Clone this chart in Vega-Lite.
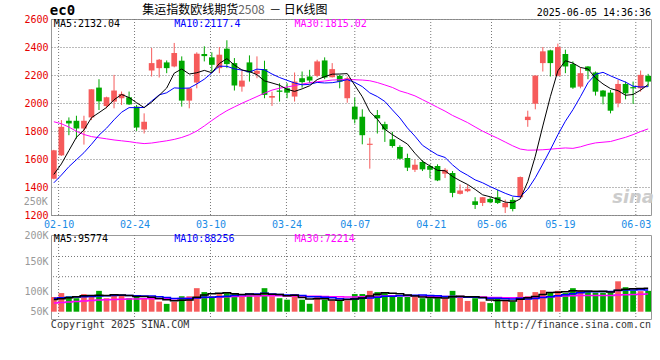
{
"$schema": "https://vega.github.io/schema/vega-lite/v6.json",
"background": "white",
"padding": {"left": 23, "top": 3, "right": 5, "bottom": 5},
"bounds": "flush",
"spacing": 20,
"config": {
  "view": {"stroke": "#999999", "strokeWidth": 1},
  "axis": {"labelFont": "DejaVu Sans Mono", "labelFontSize": 10, "ticks": false, "domain": false, "labelOverlap": false},
  "text": {"font": "DejaVu Sans Mono", "fontSize": 10, "baseline": "middle"}
},
"datasets": {
"ticks": [{"t":1},{"t":11},{"t":21},{"t":31},{"t":40},{"t":50},{"t":58},{"t":67},{"t":77}],
"hgrid": [{"g":225300},{"g":142900}],
"k": [
{"d":"02-07","o":1459,"h":1665,"l":1455,"c":1662,"m5":1490,"m10":1430,"m30":1866,"v":60000,"vm5":50000,"vm10":55000,"vm30":36000},
{"d":"02-10","o":1626,"h":1878,"l":1622,"c":1830,"m5":1565,"m10":1485,"m30":1852,"v":76000,"vm5":53000,"vm10":57000,"vm30":38000},
{"d":"02-11","o":1873,"h":1897,"l":1770,"c":1854,"m5":1660,"m10":1545,"m30":1828,"v":63000,"vm5":57000,"vm10":59000,"vm30":40000},
{"d":"02-12","o":1873,"h":1909,"l":1746,"c":1818,"m5":1755,"m10":1595,"m30":1798,"v":55000,"vm5":61000,"vm10":60000,"vm30":42000},
{"d":"02-13","o":1818,"h":1909,"l":1703,"c":1873,"m5":1807,"m10":1645,"m30":1775,"v":72000,"vm5":65200,"vm10":61000,"vm30":44000},
{"d":"02-14","o":1897,"h":2098,"l":1878,"c":2098,"m5":1895,"m10":1705,"m30":1760,"v":63000,"vm5":65800,"vm10":62000,"vm30":46000},
{"d":"02-17","o":2110,"h":2170,"l":1950,"c":2012,"m5":1931,"m10":1770,"m30":1752,"v":85000,"vm5":67600,"vm10":64000,"vm30":48000},
{"d":"02-18","o":1978,"h":2045,"l":1962,"c":2041,"m5":1968,"m10":1820,"m30":1744,"v":55000,"vm5":66000,"vm10":65000,"vm30":49000},
{"d":"02-19","o":2010,"h":2201,"l":1962,"c":2089,"m5":2023,"m10":1880,"m30":1736,"v":72000,"vm5":69400,"vm10":66000,"vm30":50000},
{"d":"02-20","o":2034,"h":2082,"l":1986,"c":2065,"m5":2061,"m10":1934,"m30":1730,"v":66000,"vm5":68200,"vm10":66700,"vm30":51000},
{"d":"02-21","o":2041,"h":2082,"l":1986,"c":1990,"m5":2039,"m10":1967,"m30":1724,"v":55000,"vm5":66600,"vm10":66200,"vm30":52000},
{"d":"02-24","o":1974,"h":1986,"l":1801,"c":1825,"m5":2002,"m10":1967,"m30":1716,"v":63000,"vm5":62200,"vm10":64900,"vm30":52000},
{"d":"02-25","o":1811,"h":1926,"l":1782,"c":1866,"m5":1967,"m10":1968,"m30":1710,"v":55000,"vm5":62200,"vm10":64100,"vm30":53000},
{"d":"02-26","o":2232,"h":2393,"l":2189,"c":2285,"m5":2006,"m10":2014,"m30":1714,"v":55000,"vm5":58800,"vm10":64100,"vm30":53000},
{"d":"02-27","o":2249,"h":2314,"l":2182,"c":2309,"m5":2055,"m10":2058,"m30":1722,"v":41000,"vm5":53800,"vm10":61000,"vm30":53000},
{"d":"02-28","o":2290,"h":2304,"l":2213,"c":2249,"m5":2107,"m10":2073,"m30":1730,"v":32000,"vm5":49200,"vm10":57900,"vm30":53000},
{"d":"03-03","o":2261,"h":2429,"l":2255,"c":2357,"m5":2213,"m10":2108,"m30":1740,"v":41000,"vm5":44800,"vm10":53500,"vm30":53000},
{"d":"03-04","o":2302,"h":2333,"l":1974,"c":2017,"m5":2243,"m10":2105,"m30":1754,"v":63000,"vm5":46400,"vm10":54300,"vm30":54000},
{"d":"03-05","o":2017,"h":2105,"l":1962,"c":2105,"m5":2207,"m10":2107,"m30":1773,"v":63000,"vm5":48000,"vm10":53400,"vm30":55000},
{"d":"03-06","o":2146,"h":2362,"l":2105,"c":2352,"m5":2216,"m10":2136,"m30":1800,"v":96000,"vm5":59000,"vm10":56400,"vm30":57000},
{"d":"03-07","o":2350,"h":2405,"l":2297,"c":2335,"m5":2233,"m10":2170,"m30":1836,"v":80000,"vm5":68600,"vm10":58900,"vm30":58000},
{"d":"03-10","o":2326,"h":2362,"l":2218,"c":2273,"m5":2216,"m10":2215,"m30":1875,"v":63000,"vm5":73000,"vm10":58900,"vm30":59000},
{"d":"03-11","o":2249,"h":2400,"l":2213,"c":2345,"m5":2282,"m10":2263,"m30":1912,"v":72000,"vm5":74800,"vm10":60600,"vm30":60000},
{"d":"03-12","o":2388,"h":2448,"l":2249,"c":2278,"m5":2317,"m10":2262,"m30":1945,"v":76000,"vm5":77400,"vm10":62700,"vm30":61000},
{"d":"03-13","o":2285,"h":2321,"l":2089,"c":2125,"m5":2271,"m10":2244,"m30":1972,"v":76000,"vm5":73400,"vm10":66200,"vm30":62000},
{"d":"03-14","o":2117,"h":2232,"l":2081,"c":2160,"m5":2236,"m10":2235,"m30":1998,"v":63000,"vm5":70000,"vm10":69300,"vm30":63000},
{"d":"03-17","o":2290,"h":2340,"l":2153,"c":2218,"m5":2225,"m10":2221,"m30":2022,"v":72000,"vm5":71800,"vm10":72400,"vm30":64000},
{"d":"03-18","o":2208,"h":2333,"l":2177,"c":2230,"m5":2202,"m10":2242,"m30":2046,"v":63000,"vm5":70000,"vm10":72400,"vm30":64000},
{"d":"03-19","o":2242,"h":2302,"l":2034,"c":2058,"m5":2158,"m10":2237,"m30":2070,"v":96000,"vm5":74000,"vm10":75700,"vm30":65000},
{"d":"03-20","o":2038,"h":2081,"l":1979,"c":2050,"m5":2143,"m10":2207,"m30":2092,"v":63000,"vm5":71400,"vm10":72400,"vm30":65200},
{"d":"03-21","o":2089,"h":2141,"l":2010,"c":2080,"m5":2127,"m10":2182,"m30":2106,"v":55000,"vm5":69800,"vm10":69900,"vm30":65000},
{"d":"03-24","o":2105,"h":2141,"l":2034,"c":2074,"m5":2098,"m10":2162,"m30":2114,"v":49000,"vm5":65200,"vm10":68500,"vm30":64100},
{"d":"03-25","o":2046,"h":2218,"l":2010,"c":2153,"m5":2083,"m10":2143,"m30":2124,"v":72000,"vm5":67000,"vm10":68500,"vm30":64400},
{"d":"03-26","o":2177,"h":2225,"l":2110,"c":2149,"m5":2101,"m10":2130,"m30":2135,"v":49000,"vm5":57600,"vm10":65800,"vm30":64200},
{"d":"03-27","o":2189,"h":2237,"l":2141,"c":2160,"m5":2123,"m10":2133,"m30":2145,"v":32000,"vm5":51400,"vm10":61400,"vm30":62900},
{"d":"03-28","o":2194,"h":2309,"l":2184,"c":2297,"m5":2167,"m10":2147,"m30":2152,"v":63000,"vm5":53000,"vm10":61400,"vm30":62900},
{"d":"03-31","o":2304,"h":2326,"l":2170,"c":2182,"m5":2188,"m10":2143,"m30":2157,"v":49000,"vm5":53000,"vm10":59100,"vm30":61700},
{"d":"04-01","o":2184,"h":2285,"l":2182,"c":2242,"m5":2206,"m10":2145,"m30":2164,"v":46000,"vm5":47800,"vm10":57400,"vm30":61400},
{"d":"04-02","o":2194,"h":2201,"l":2105,"c":2153,"m5":2207,"m10":2154,"m30":2166,"v":46000,"vm5":47200,"vm10":52400,"vm30":60500},
{"d":"04-03","o":2034,"h":2189,"l":2002,"c":2177,"m5":2210,"m10":2167,"m30":2170,"v":46000,"vm5":50000,"vm10":50700,"vm30":59800},
{"d":"04-07","o":1974,"h":2038,"l":1854,"c":1883,"m5":2127,"m10":2147,"m30":2166,"v":72000,"vm5":51800,"vm10":52400,"vm30":60400},
{"d":"04-08","o":1902,"h":1955,"l":1705,"c":1770,"m5":2045,"m10":2117,"m30":2164,"v":72000,"vm5":56400,"vm10":54700,"vm30":60700},
{"d":"04-09","o":1701,"h":1751,"l":1531,"c":1709,"m5":1938,"m10":2072,"m30":2159,"v":85000,"vm5":64200,"vm10":56000,"vm30":61700},
{"d":"04-10","o":1914,"h":1950,"l":1782,"c":1890,"m5":1885,"m10":2046,"m30":2146,"v":80000,"vm5":71000,"vm10":59100,"vm30":62500},
{"d":"04-11","o":1849,"h":1866,"l":1722,"c":1811,"m5":1812,"m10":2011,"m30":2129,"v":76000,"vm5":77000,"vm10":63500,"vm30":63700},
{"d":"04-14","o":1741,"h":1794,"l":1681,"c":1693,"m5":1774,"m10":1951,"m30":2111,"v":63000,"vm5":75200,"vm10":63500,"vm30":64700},
{"d":"04-15","o":1686,"h":1698,"l":1598,"c":1602,"m5":1740,"m10":1893,"m30":2086,"v":60000,"vm5":72800,"vm10":64600,"vm30":65400},
{"d":"04-16","o":1607,"h":1638,"l":1514,"c":1538,"m5":1707,"m10":1822,"m30":2070,"v":60000,"vm5":67800,"vm10":66000,"vm30":65300},
{"d":"04-17","o":1523,"h":1595,"l":1507,"c":1559,"m5":1641,"m10":1763,"m30":2051,"v":60000,"vm5":63800,"vm10":67400,"vm30":65200},
{"d":"04-18","o":1579,"h":1591,"l":1514,"c":1526,"m5":1584,"m10":1698,"m30":2024,"v":55000,"vm5":59600,"vm10":68300,"vm30":63800},
{"d":"04-21","o":1550,"h":1562,"l":1464,"c":1523,"m5":1550,"m10":1662,"m30":1997,"v":55000,"vm5":58000,"vm10":66600,"vm30":63000},
{"d":"04-22","o":1550,"h":1562,"l":1442,"c":1447,"m5":1519,"m10":1629,"m30":1969,"v":55000,"vm5":57000,"vm10":64900,"vm30":62700},
{"d":"04-23","o":1495,"h":1535,"l":1464,"c":1523,"m5":1516,"m10":1611,"m30":1942,"v":55000,"vm5":56000,"vm10":61900,"vm30":62100},
{"d":"04-24","o":1500,"h":1514,"l":1327,"c":1358,"m5":1475,"m10":1558,"m30":1911,"v":85000,"vm5":61000,"vm10":62400,"vm30":62400},
{"d":"04-25","o":1351,"h":1418,"l":1346,"c":1375,"m5":1445,"m10":1514,"m30":1886,"v":64000,"vm5":62800,"vm10":61200,"vm30":62000},
{"d":"04-28","o":1370,"h":1416,"l":1363,"c":1387,"m5":1418,"m10":1484,"m30":1860,"v":44000,"vm5":60600,"vm10":59300,"vm30":61400},
{"d":"04-29","o":1298,"h":1327,"l":1243,"c":1272,"m5":1383,"m10":1451,"m30":1829,"v":55000,"vm5":60600,"vm10":58800,"vm30":60800},
{"d":"04-30","o":1286,"h":1327,"l":1264,"c":1327,"m5":1344,"m10":1430,"m30":1799,"v":41000,"vm5":57800,"vm10":56900,"vm30":60100},
{"d":"05-06","o":1315,"h":1327,"l":1284,"c":1291,"m5":1330,"m10":1403,"m30":1773,"v":35000,"vm5":47800,"vm10":54400,"vm30":58100},
{"d":"05-07","o":1327,"h":1380,"l":1279,"c":1286,"m5":1313,"m10":1379,"m30":1748,"v":55000,"vm5":46000,"vm10":54400,"vm30":57800},
{"d":"05-08","o":1255,"h":1310,"l":1214,"c":1286,"m5":1292,"m10":1355,"m30":1721,"v":44000,"vm5":46000,"vm10":53300,"vm30":57400},
{"d":"05-09","o":1308,"h":1327,"l":1226,"c":1243,"m5":1287,"m10":1335,"m30":1694,"v":41000,"vm5":43200,"vm10":51900,"vm30":57200},
{"d":"05-12","o":1327,"h":1475,"l":1325,"c":1471,"m5":1315,"m10":1330,"m30":1671,"v":80000,"vm5":51000,"vm10":54400,"vm30":57400},
{"d":"05-13","o":1878,"h":1945,"l":1830,"c":1902,"m5":1438,"m10":1384,"m30":1663,"v":63000,"vm5":56600,"vm10":52200,"vm30":57900},
{"d":"05-14","o":1995,"h":2196,"l":1955,"c":2196,"m5":1620,"m10":1466,"m30":1664,"v":80000,"vm5":61600,"vm10":53800,"vm30":59500},
{"d":"05-15","o":2285,"h":2400,"l":2225,"c":2369,"m5":1836,"m10":1564,"m30":1666,"v":88000,"vm5":70400,"vm10":58200,"vm30":60300},
{"d":"05-16","o":2376,"h":2381,"l":2189,"c":2285,"m5":2045,"m10":1666,"m30":1670,"v":80000,"vm5":78200,"vm10":60700,"vm30":61400},
{"d":"05-19","o":2194,"h":2424,"l":2190,"c":2400,"m5":2230,"m10":1773,"m30":1675,"v":85000,"vm5":79200,"vm10":65100,"vm30":62700},
{"d":"05-20","o":2350,"h":2381,"l":2213,"c":2261,"m5":2302,"m10":1870,"m30":1679,"v":76000,"vm5":81800,"vm10":69200,"vm30":63700},
{"d":"05-21","o":2278,"h":2297,"l":2101,"c":2110,"m5":2285,"m10":1952,"m30":1676,"v":96000,"vm5":85000,"vm10":73300,"vm30":65300},
{"d":"05-22","o":2117,"h":2254,"l":2105,"c":2213,"m5":2254,"m10":2045,"m30":1687,"v":87000,"vm5":84800,"vm10":77600,"vm30":65800},
{"d":"05-23","o":2261,"h":2263,"l":2170,"c":2230,"m5":2243,"m10":2144,"m30":1703,"v":80000,"vm5":84800,"vm10":81500,"vm30":66100},
{"d":"05-26","o":2218,"h":2225,"l":2053,"c":2081,"m5":2179,"m10":2205,"m30":1715,"v":78000,"vm5":83400,"vm10":81300,"vm30":65900},
{"d":"05-27","o":2089,"h":2093,"l":1990,"c":2046,"m5":2136,"m10":2219,"m30":1720,"v":78000,"vm5":83800,"vm10":82800,"vm30":65800},
{"d":"05-28","o":2074,"h":2093,"l":1926,"c":1945,"m5":2103,"m10":2194,"m30":1725,"v":79000,"vm5":80400,"vm10":82700,"vm30":65900},
{"d":"05-29","o":1998,"h":2165,"l":1969,"c":2136,"m5":2088,"m10":2171,"m30":1740,"v":124000,"vm5":87800,"vm10":86300,"vm30":67900},
{"d":"05-30","o":2136,"h":2153,"l":2026,"c":2069,"m5":2055,"m10":2149,"m30":1755,"v":100000,"vm5":91800,"vm10":88300,"vm30":69300},
{"d":"06-03","o":2113,"h":2153,"l":1993,"c":2105,"m5":2061,"m10":2120,"m30":1774,"v":86000,"vm5":93400,"vm10":88400,"vm30":70100},
{"d":"06-04","o":2105,"h":2232,"l":2081,"c":2201,"m5":2092,"m10":2114,"m30":1796,"v":84000,"vm5":94600,"vm10":89200,"vm30":70900},
{"d":"06-05","o":2194,"h":2208,"l":2117,"c":2153,"m5":2132,"m10":2117,"m30":1815,"v":85000,"vm5":95800,"vm10":88100,"vm30":72200}
]
},
"vconcat": [
{
  "width": 600, "height": 196,
  "resolve": {"scale": {"x": "independent"}},
  "layer": [
    {
      "data": {"name": "ticks"},
      "mark": {"type": "rule", "color": "#777777", "strokeDash": [1, 2], "strokeWidth": 1},
      "encoding": {
        "x": {"field": "t", "type": "quantitative", "title": null,
          "scale": {"domain": [0, 79], "nice": false, "zero": false},
          "axis": {"values": [1,11,21,31,40,50,58,67,77],
            "labelExpr": "['02-10','02-24','03-10','03-24','04-07','04-21','05-06','05-19','06-03'][indexof([1,11,21,31,40,50,58,67,77], datum.value)]",
            "labelColor": "#1a8ce6", "labelPadding": 4, "labelFlush": false, "labelOverlap": false, "grid": false}}
      }
    },
    {
      "data": {"name": "k"},
      "encoding": {"x": {"field": "d", "type": "ordinal", "title": null, "scale": {"type": "band", "paddingInner": 0.24, "paddingOuter": 0}, "axis": null}},
      "layer": [
        {
          "mark": {"type": "rule", "strokeWidth": 1},
          "encoding": {
            "y": {"field": "l", "type": "quantitative", "title": null,
              "scale": {"domain": [1200, 2600], "nice": false, "zero": false},
              "axis": {"values": [1200,1400,1600,1800,2000,2200,2400,2600], "format": "d", "labelColor": "#e60000", "labelPadding": 3, "labelOverlap": false, "grid": true, "gridDash": [1, 2], "gridColor": "#777777"}},
            "y2": {"field": "h"},
            "color": {"condition": {"test": "datum.c >= datum.o", "value": "#f65b5b"}, "value": "#00a800"}
          }
        },
        {
          "mark": {"type": "bar"},
          "encoding": {
            "y": {"field": "o", "type": "quantitative", "title": null, "scale": {"domain": [1200, 2600], "nice": false, "zero": false},
              "axis": {"values": [1200,1400,1600,1800,2000,2200,2400,2600], "format": "d", "labelColor": "#e60000", "labelPadding": 3, "labelOverlap": false, "grid": true, "gridDash": [1, 2], "gridColor": "#777777"}},
            "y2": {"field": "c"},
            "color": {"condition": {"test": "datum.c >= datum.o", "value": "#f65b5b"}, "value": "#00a800"}
          }
        },
        {"mark": {"type": "line", "color": "#ff00ff", "strokeWidth": 1},
         "encoding": {"y": {"field": "m30", "type": "quantitative", "title": null, "scale": {"domain": [1200, 2600], "nice": false, "zero": false},
           "axis": {"values": [1200,1400,1600,1800,2000,2200,2400,2600], "format": "d", "labelColor": "#e60000", "labelPadding": 3, "labelOverlap": false, "grid": true, "gridDash": [1, 2], "gridColor": "#777777"}}}},
        {"mark": {"type": "line", "color": "#0000ff", "strokeWidth": 1},
         "encoding": {"y": {"field": "m10", "type": "quantitative", "title": null, "scale": {"domain": [1200, 2600], "nice": false, "zero": false},
           "axis": {"values": [1200,1400,1600,1800,2000,2200,2400,2600], "format": "d", "labelColor": "#e60000", "labelPadding": 3, "labelOverlap": false, "grid": true, "gridDash": [1, 2], "gridColor": "#777777"}}}},
        {"mark": {"type": "line", "color": "#000000", "strokeWidth": 1},
         "encoding": {"y": {"field": "m5", "type": "quantitative", "title": null, "scale": {"domain": [1200, 2600], "nice": false, "zero": false},
           "axis": {"values": [1200,1400,1600,1800,2000,2200,2400,2600], "format": "d", "labelColor": "#e60000", "labelPadding": 3, "labelOverlap": false, "grid": true, "gridDash": [1, 2], "gridColor": "#777777"}}}},
        {"data": {"values": [{"s": "MA5:2132.04", "x": "02-07", "p": 2564}]}, "mark": {"type": "text", "align": "left", "color": "#000000"},
         "encoding": {"x": {"field": "x", "type": "ordinal"}, "y": {"field": "p", "type": "quantitative", "title": null, "scale": {"domain": [1200, 2600], "nice": false, "zero": false},
           "axis": {"values": [1200,1400,1600,1800,2000,2200,2400,2600], "format": "d", "labelColor": "#e60000", "labelPadding": 3, "labelOverlap": false, "grid": true, "gridDash": [1, 2], "gridColor": "#777777"}}, "text": {"field": "s"}}},
        {"data": {"values": [{"s": "MA10:2117.4", "x": "03-03", "p": 2564}]}, "mark": {"type": "text", "align": "left", "color": "#0000ff"},
         "encoding": {"x": {"field": "x", "type": "ordinal"}, "y": {"field": "p", "type": "quantitative", "title": null, "scale": {"domain": [1200, 2600], "nice": false, "zero": false},
           "axis": {"values": [1200,1400,1600,1800,2000,2200,2400,2600], "format": "d", "labelColor": "#e60000", "labelPadding": 3, "labelOverlap": false, "grid": true, "gridDash": [1, 2], "gridColor": "#777777"}}, "text": {"field": "s"}}},
        {"data": {"values": [{"s": "MA30:1815.02", "x": "03-25", "p": 2564}]}, "mark": {"type": "text", "align": "left", "color": "#ff00ff"},
         "encoding": {"x": {"field": "x", "type": "ordinal"}, "y": {"field": "p", "type": "quantitative", "title": null, "scale": {"domain": [1200, 2600], "nice": false, "zero": false},
           "axis": {"values": [1200,1400,1600,1800,2000,2200,2400,2600], "format": "d", "labelColor": "#e60000", "labelPadding": 3, "labelOverlap": false, "grid": true, "gridDash": [1, 2], "gridColor": "#777777"}}, "text": {"field": "s"}}},
        {"data": {"values": [{"s": "250K", "x": "02-07", "p": 1295}]}, "mark": {"type": "text", "align": "right", "color": "#999999", "dx": -6},
         "encoding": {"x": {"field": "x", "type": "ordinal"}, "y": {"field": "p", "type": "quantitative", "title": null, "scale": {"domain": [1200, 2600], "nice": false, "zero": false},
           "axis": {"values": [1200,1400,1600,1800,2000,2200,2400,2600], "format": "d", "labelColor": "#e60000", "labelPadding": 3, "labelOverlap": false, "grid": true, "gridDash": [1, 2], "gridColor": "#777777"}}, "text": {"field": "s"}}},
        {"data": {"values": [{"s": "ec0", "x": "02-07", "p": 2655}]}, "mark": {"type": "text", "align": "left", "color": "#000000", "fontSize": 14, "fontWeight": "bold", "dx": -4},
         "encoding": {"x": {"field": "x", "type": "ordinal"}, "y": {"field": "p", "type": "quantitative", "title": null, "scale": {"domain": [1200, 2600], "nice": false, "zero": false},
           "axis": {"values": [1200,1400,1600,1800,2000,2200,2400,2600], "format": "d", "labelColor": "#e60000", "labelPadding": 3, "labelOverlap": false, "grid": true, "gridDash": [1, 2], "gridColor": "#777777"}}, "text": {"field": "s"}}},
        {"data": {"values": [{"s": "集运指数欧线期货", "x": "02-25", "p": 2662}]}, "mark": {"type": "text", "align": "left", "color": "#000000", "font": "Noto Sans CJK SC", "fontSize": 12, "dx": -2},
         "encoding": {"x": {"field": "x", "type": "ordinal"}, "y": {"field": "p", "type": "quantitative", "title": null, "scale": {"domain": [1200, 2600], "nice": false, "zero": false},
           "axis": {"values": [1200,1400,1600,1800,2000,2200,2400,2600], "format": "d", "labelColor": "#e60000", "labelPadding": 3, "labelOverlap": false, "grid": true, "gridDash": [1, 2], "gridColor": "#777777"}}, "text": {"field": "s"}}},
        {"data": {"values": [{"s": "2508", "x": "02-25", "p": 2662}]}, "mark": {"type": "text", "align": "left", "color": "#666666", "font": "Noto Sans CJK SC", "fontSize": 12, "dx": 94},
         "encoding": {"x": {"field": "x", "type": "ordinal"}, "y": {"field": "p", "type": "quantitative", "title": null, "scale": {"domain": [1200, 2600], "nice": false, "zero": false},
           "axis": {"values": [1200,1400,1600,1800,2000,2200,2400,2600], "format": "d", "labelColor": "#e60000", "labelPadding": 3, "labelOverlap": false, "grid": true, "gridDash": [1, 2], "gridColor": "#777777"}}, "text": {"field": "s"}}},
        {"data": {"values": [{"s": "－ 日K线图", "x": "02-25", "p": 2662}]}, "mark": {"type": "text", "align": "left", "color": "#000000", "font": "Noto Sans CJK SC", "fontSize": 12, "dx": 125},
         "encoding": {"x": {"field": "x", "type": "ordinal"}, "y": {"field": "p", "type": "quantitative", "title": null, "scale": {"domain": [1200, 2600], "nice": false, "zero": false},
           "axis": {"values": [1200,1400,1600,1800,2000,2200,2400,2600], "format": "d", "labelColor": "#e60000", "labelPadding": 3, "labelOverlap": false, "grid": true, "gridDash": [1, 2], "gridColor": "#777777"}}, "text": {"field": "s"}}},
        {"data": {"values": [{"s": "2025-06-05 14:36:36", "x": "06-05", "p": 2641}]}, "mark": {"type": "text", "align": "right", "color": "#000000", "dx": 3},
         "encoding": {"x": {"field": "x", "type": "ordinal"}, "y": {"field": "p", "type": "quantitative", "title": null, "scale": {"domain": [1200, 2600], "nice": false, "zero": false},
           "axis": {"values": [1200,1400,1600,1800,2000,2200,2400,2600], "format": "d", "labelColor": "#e60000", "labelPadding": 3, "labelOverlap": false, "grid": true, "gridDash": [1, 2], "gridColor": "#777777"}}, "text": {"field": "s"}}},
        {"data": {"values": [{"s": "sina", "x": "06-03", "p": 1322}]}, "mark": {"type": "text", "align": "center", "color": "#cccccc", "font": "DejaVu Sans", "fontSize": 18, "fontWeight": "bold", "fontStyle": "italic"},
         "encoding": {"x": {"field": "x", "type": "ordinal"}, "y": {"field": "p", "type": "quantitative", "title": null, "scale": {"domain": [1200, 2600], "nice": false, "zero": false},
           "axis": {"values": [1200,1400,1600,1800,2000,2200,2400,2600], "format": "d", "labelColor": "#e60000", "labelPadding": 3, "labelOverlap": false, "grid": true, "gridDash": [1, 2], "gridColor": "#777777"}}, "text": {"field": "s"}}}
      ]
    }
  ]
},
{
  "width": 600, "height": 84,
  "resolve": {"scale": {"x": "independent"}},
  "layer": [
    {
      "data": {"name": "ticks"},
      "mark": {"type": "rule", "color": "#777777", "strokeDash": [1, 2], "strokeWidth": 1},
      "encoding": {"x": {"field": "t", "type": "quantitative", "title": null, "scale": {"domain": [0, 79], "nice": false, "zero": false}, "axis": null}}
    },
    {
      "data": {"name": "hgrid"},
      "mark": {"type": "rule", "color": "#777777", "strokeDash": [1, 2], "strokeWidth": 1},
      "encoding": {"y": {"field": "g", "type": "quantitative", "title": null,
        "scale": {"domain": [-29800, 313000], "nice": false, "zero": false},
        "axis": {"values": [312000, 202900, 82400, 800], "labelExpr": "datum.value > 300000 ? '200K' : datum.value > 150000 ? '150K' : datum.value > 50000 ? '100K' : '50K'", "labelColor": "#999999", "labelPadding": 3, "labelOverlap": false, "grid": false}}}
    },
    {
      "data": {"name": "k"},
      "encoding": {"x": {"field": "d", "type": "ordinal", "title": null, "scale": {"type": "band", "paddingInner": 0.24, "paddingOuter": 0}, "axis": null}},
      "layer": [
        {"mark": {"type": "bar"},
         "encoding": {
           "y": {"field": "v", "type": "quantitative", "title": null, "scale": {"domain": [-29800, 313000], "nice": false, "zero": false},
             "axis": {"values": [312000, 202900, 82400, 800], "labelExpr": "datum.value > 300000 ? '200K' : datum.value > 150000 ? '150K' : datum.value > 50000 ? '100K' : '50K'", "labelColor": "#999999", "labelPadding": 3, "labelOverlap": false, "grid": false}},
           "color": {"condition": {"test": "datum.c >= datum.o", "value": "#f65b5b"}, "value": "#00a800"}}},
        {"mark": {"type": "line", "color": "#ff00ff", "strokeWidth": 1.5, "interpolate": "step"},
         "encoding": {"y": {"field": "vm30", "type": "quantitative", "title": null, "scale": {"domain": [-29800, 313000], "nice": false, "zero": false},
           "axis": {"values": [312000, 202900, 82400, 800], "labelExpr": "datum.value > 300000 ? '200K' : datum.value > 150000 ? '150K' : datum.value > 50000 ? '100K' : '50K'", "labelColor": "#999999", "labelPadding": 3, "labelOverlap": false, "grid": false}}}},
        {"mark": {"type": "line", "color": "#0000ff", "strokeWidth": 1.5, "interpolate": "step"},
         "encoding": {"y": {"field": "vm10", "type": "quantitative", "title": null, "scale": {"domain": [-29800, 313000], "nice": false, "zero": false},
           "axis": {"values": [312000, 202900, 82400, 800], "labelExpr": "datum.value > 300000 ? '200K' : datum.value > 150000 ? '150K' : datum.value > 50000 ? '100K' : '50K'", "labelColor": "#999999", "labelPadding": 3, "labelOverlap": false, "grid": false}}}},
        {"mark": {"type": "line", "color": "#000000", "strokeWidth": 1.5, "interpolate": "step"},
         "encoding": {"y": {"field": "vm5", "type": "quantitative", "title": null, "scale": {"domain": [-29800, 313000], "nice": false, "zero": false},
           "axis": {"values": [312000, 202900, 82400, 800], "labelExpr": "datum.value > 300000 ? '200K' : datum.value > 150000 ? '150K' : datum.value > 50000 ? '100K' : '50K'", "labelColor": "#999999", "labelPadding": 3, "labelOverlap": false, "grid": false}}}},
        {"data": {"values": [{"s": "MA5:95774", "x": "02-07", "q": 295450}]}, "mark": {"type": "text", "align": "left", "color": "#000000"},
         "encoding": {"x": {"field": "x", "type": "ordinal"}, "y": {"field": "q", "type": "quantitative", "title": null, "scale": {"domain": [-29800, 313000], "nice": false, "zero": false},
           "axis": {"values": [312000, 202900, 82400, 800], "labelExpr": "datum.value > 300000 ? '200K' : datum.value > 150000 ? '150K' : datum.value > 50000 ? '100K' : '50K'", "labelColor": "#999999", "labelPadding": 3, "labelOverlap": false, "grid": false}}, "text": {"field": "s"}}},
        {"data": {"values": [{"s": "MA10:88256", "x": "03-03", "q": 295450}]}, "mark": {"type": "text", "align": "left", "color": "#0000ff"},
         "encoding": {"x": {"field": "x", "type": "ordinal"}, "y": {"field": "q", "type": "quantitative", "title": null, "scale": {"domain": [-29800, 313000], "nice": false, "zero": false},
           "axis": {"values": [312000, 202900, 82400, 800], "labelExpr": "datum.value > 300000 ? '200K' : datum.value > 150000 ? '150K' : datum.value > 50000 ? '100K' : '50K'", "labelColor": "#999999", "labelPadding": 3, "labelOverlap": false, "grid": false}}, "text": {"field": "s"}}},
        {"data": {"values": [{"s": "MA30:72214", "x": "03-25", "q": 295450}]}, "mark": {"type": "text", "align": "left", "color": "#ff00ff"},
         "encoding": {"x": {"field": "x", "type": "ordinal"}, "y": {"field": "q", "type": "quantitative", "title": null, "scale": {"domain": [-29800, 313000], "nice": false, "zero": false},
           "axis": {"values": [312000, 202900, 82400, 800], "labelExpr": "datum.value > 300000 ? '200K' : datum.value > 150000 ? '150K' : datum.value > 50000 ? '100K' : '50K'", "labelColor": "#999999", "labelPadding": 3, "labelOverlap": false, "grid": false}}, "text": {"field": "s"}}},
        {"data": {"values": [{"s": "Copyright 2025 SINA.COM", "x": "02-07", "q": -52250}]}, "mark": {"type": "text", "align": "left", "color": "#333333", "dx": -3},
         "encoding": {"x": {"field": "x", "type": "ordinal"}, "y": {"field": "q", "type": "quantitative", "title": null, "scale": {"domain": [-29800, 313000], "nice": false, "zero": false},
           "axis": {"values": [312000, 202900, 82400, 800], "labelExpr": "datum.value > 300000 ? '200K' : datum.value > 150000 ? '150K' : datum.value > 50000 ? '100K' : '50K'", "labelColor": "#999999", "labelPadding": 3, "labelOverlap": false, "grid": false}}, "text": {"field": "s"}}},
        {"data": {"values": [{"s": "http://finance.sina.com.cn", "x": "06-05", "q": -52250}]}, "mark": {"type": "text", "align": "right", "color": "#333333", "dx": 3},
         "encoding": {"x": {"field": "x", "type": "ordinal"}, "y": {"field": "q", "type": "quantitative", "title": null, "scale": {"domain": [-29800, 313000], "nice": false, "zero": false},
           "axis": {"values": [312000, 202900, 82400, 800], "labelExpr": "datum.value > 300000 ? '200K' : datum.value > 150000 ? '150K' : datum.value > 50000 ? '100K' : '50K'", "labelColor": "#999999", "labelPadding": 3, "labelOverlap": false, "grid": false}}, "text": {"field": "s"}}}
      ]
    }
  ]
}
]
}
